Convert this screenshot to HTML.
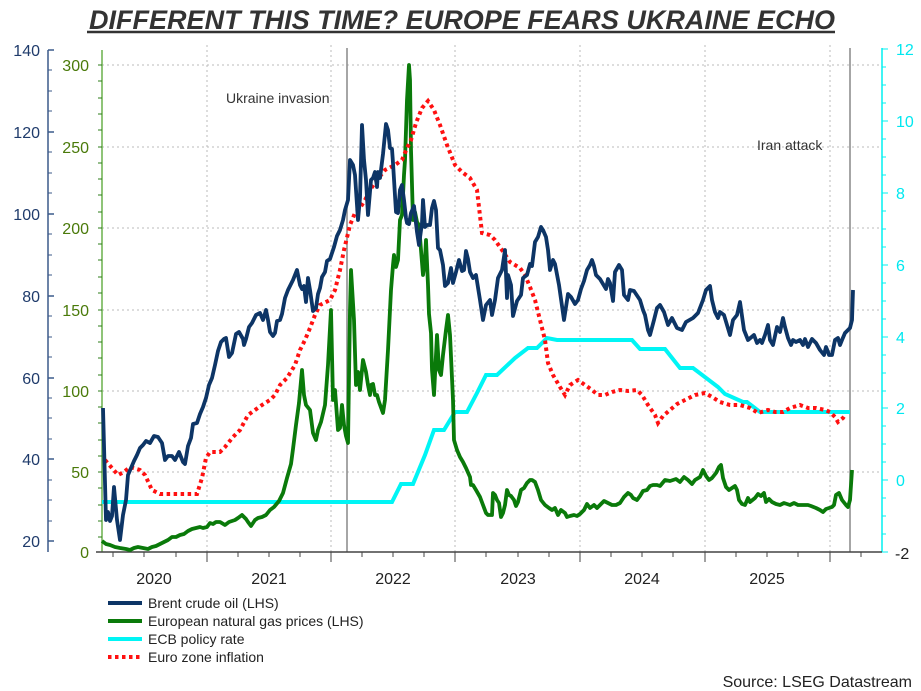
<!DOCTYPE html>
<html><head><meta charset="utf-8"><style>
body{margin:0;background:#fff;}
svg{display:block;font-family:"Liberation Sans",sans-serif;}
</style></head><body>
<svg width="921" height="691" viewBox="0 0 921 691" xmlns="http://www.w3.org/2000/svg">
<rect width="921" height="691" fill="#fff"/>
<text x="89" y="29" font-size="27" font-weight="bold" font-style="italic" fill="#333" textLength="746" lengthAdjust="spacingAndGlyphs">DIFFERENT THIS TIME? EUROPE FEARS UKRAINE ECHO</text>
<line x1="87" y1="32" x2="835" y2="32" stroke="#333" stroke-width="2.5"/>
<g stroke="#bbb" stroke-width="1" stroke-dasharray="2,3">
<line x1="102" y1="65" x2="882" y2="65"/><line x1="102" y1="147" x2="882" y2="147"/><line x1="102" y1="228" x2="882" y2="228"/><line x1="102" y1="310" x2="882" y2="310"/><line x1="102" y1="391" x2="882" y2="391"/><line x1="102" y1="472" x2="882" y2="472"/>
<line x1="207" y1="45" x2="207" y2="552"/><line x1="331" y1="45" x2="331" y2="552"/><line x1="455" y1="45" x2="455" y2="552"/><line x1="580" y1="45" x2="580" y2="552"/><line x1="705" y1="45" x2="705" y2="552"/><line x1="830" y1="45" x2="830" y2="552"/>
</g>
<line x1="347" y1="48" x2="347" y2="552" stroke="#888" stroke-width="1.5"/>
<line x1="850" y1="48" x2="850" y2="552" stroke="#888" stroke-width="1.5"/>
<text x="226" y="103" font-size="14" fill="#333">Ukraine invasion</text>
<text x="757" y="150" font-size="14" fill="#333">Iran attack</text>
<g stroke="#3b5a8a" stroke-width="1.5">
<line x1="48" y1="50" x2="48" y2="552"/>
<line x1="48" y1="50" x2="54" y2="50"/><line x1="48" y1="132" x2="54" y2="132"/><line x1="48" y1="214" x2="54" y2="214"/><line x1="48" y1="296" x2="54" y2="296"/><line x1="48" y1="378" x2="54" y2="378"/><line x1="48" y1="459" x2="54" y2="459"/><line x1="48" y1="541" x2="54" y2="541"/>
</g>
<g stroke="#3b5a8a" stroke-width="1">
<line x1="48" y1="70" x2="52" y2="70"/><line x1="48" y1="91" x2="52" y2="91"/><line x1="48" y1="111" x2="52" y2="111"/><line x1="48" y1="152" x2="52" y2="152"/><line x1="48" y1="173" x2="52" y2="173"/><line x1="48" y1="193" x2="52" y2="193"/><line x1="48" y1="234" x2="52" y2="234"/><line x1="48" y1="255" x2="52" y2="255"/><line x1="48" y1="275" x2="52" y2="275"/><line x1="48" y1="316" x2="52" y2="316"/><line x1="48" y1="337" x2="52" y2="337"/><line x1="48" y1="357" x2="52" y2="357"/><line x1="48" y1="398" x2="52" y2="398"/><line x1="48" y1="418" x2="52" y2="418"/><line x1="48" y1="439" x2="52" y2="439"/><line x1="48" y1="480" x2="52" y2="480"/><line x1="48" y1="500" x2="52" y2="500"/><line x1="48" y1="521" x2="52" y2="521"/>
</g>
<g font-size="16" fill="#1f3b6b" text-anchor="end">
<text x="40" y="56">140</text><text x="40" y="138">120</text><text x="40" y="220">100</text><text x="40" y="302">80</text><text x="40" y="384">60</text><text x="40" y="465">40</text><text x="40" y="547">20</text>
</g>
<g stroke="#6ab04c" stroke-width="1.5"><line x1="102" y1="50" x2="102" y2="552"/></g>
<g stroke="#2e7d1a" stroke-width="1">
<line x1="98" y1="65" x2="102" y2="65"/><line x1="98" y1="81" x2="102" y2="81"/><line x1="98" y1="98" x2="102" y2="98"/><line x1="98" y1="114" x2="102" y2="114"/><line x1="98" y1="130" x2="102" y2="130"/><line x1="98" y1="147" x2="102" y2="147"/><line x1="98" y1="163" x2="102" y2="163"/><line x1="98" y1="179" x2="102" y2="179"/><line x1="98" y1="195" x2="102" y2="195"/><line x1="98" y1="212" x2="102" y2="212"/><line x1="98" y1="228" x2="102" y2="228"/><line x1="98" y1="244" x2="102" y2="244"/><line x1="98" y1="260" x2="102" y2="260"/><line x1="98" y1="277" x2="102" y2="277"/><line x1="98" y1="293" x2="102" y2="293"/><line x1="98" y1="310" x2="102" y2="310"/><line x1="98" y1="326" x2="102" y2="326"/><line x1="98" y1="342" x2="102" y2="342"/><line x1="98" y1="358" x2="102" y2="358"/><line x1="98" y1="375" x2="102" y2="375"/><line x1="98" y1="391" x2="102" y2="391"/><line x1="98" y1="407" x2="102" y2="407"/><line x1="98" y1="423" x2="102" y2="423"/><line x1="98" y1="440" x2="102" y2="440"/><line x1="98" y1="456" x2="102" y2="456"/><line x1="98" y1="472" x2="102" y2="472"/><line x1="98" y1="488" x2="102" y2="488"/><line x1="98" y1="505" x2="102" y2="505"/><line x1="98" y1="521" x2="102" y2="521"/><line x1="98" y1="537" x2="102" y2="537"/>
</g>
<g font-size="16" fill="#4a7a0a" text-anchor="end">
<text x="89" y="71">300</text><text x="89" y="153">250</text><text x="89" y="234">200</text><text x="89" y="316">150</text><text x="89" y="397">100</text><text x="89" y="478">50</text><text x="89" y="558">0</text>
</g>
<g stroke="#00f0f0" stroke-width="1.5"><line x1="882" y1="48" x2="882" y2="552"/></g>
<g stroke="#00f0f0" stroke-width="1">
<line x1="882" y1="49" x2="888" y2="49"/><line x1="882" y1="121" x2="888" y2="121"/><line x1="882" y1="193" x2="888" y2="193"/><line x1="882" y1="265" x2="888" y2="265"/><line x1="882" y1="337" x2="888" y2="337"/><line x1="882" y1="408" x2="888" y2="408"/><line x1="882" y1="480" x2="888" y2="480"/><line x1="882" y1="552" x2="888" y2="552"/>
<line x1="882" y1="67" x2="886" y2="67"/><line x1="882" y1="85" x2="886" y2="85"/><line x1="882" y1="103" x2="886" y2="103"/><line x1="882" y1="139" x2="886" y2="139"/><line x1="882" y1="157" x2="886" y2="157"/><line x1="882" y1="175" x2="886" y2="175"/><line x1="882" y1="211" x2="886" y2="211"/><line x1="882" y1="229" x2="886" y2="229"/><line x1="882" y1="247" x2="886" y2="247"/><line x1="882" y1="283" x2="886" y2="283"/><line x1="882" y1="301" x2="886" y2="301"/><line x1="882" y1="319" x2="886" y2="319"/><line x1="882" y1="355" x2="886" y2="355"/><line x1="882" y1="373" x2="886" y2="373"/><line x1="882" y1="391" x2="886" y2="391"/><line x1="882" y1="426" x2="886" y2="426"/><line x1="882" y1="444" x2="886" y2="444"/><line x1="882" y1="462" x2="886" y2="462"/><line x1="882" y1="498" x2="886" y2="498"/><line x1="882" y1="516" x2="886" y2="516"/><line x1="882" y1="534" x2="886" y2="534"/>
</g>
<g font-size="16" fill="#00e8f0">
<text x="896" y="55">12</text><text x="896" y="127">10</text><text x="896" y="199">8</text><text x="896" y="271">6</text><text x="896" y="343">4</text><text x="896" y="414">2</text><text x="896" y="486">0</text>
</g>
<text x="895" y="559" font-size="16" fill="#222">-2</text>
<line x1="96" y1="552" x2="882" y2="552" stroke="#444" stroke-width="1.5"/>
<g stroke="#444" stroke-width="1">
<line x1="207" y1="552" x2="207" y2="562"/><line x1="331" y1="552" x2="331" y2="562"/><line x1="455" y1="552" x2="455" y2="562"/><line x1="580" y1="552" x2="580" y2="562"/><line x1="705" y1="552" x2="705" y2="562"/><line x1="830" y1="552" x2="830" y2="562"/>
<line x1="113" y1="552" x2="113" y2="557"/><line x1="144" y1="552" x2="144" y2="557"/><line x1="176" y1="552" x2="176" y2="557"/><line x1="238" y1="552" x2="238" y2="557"/><line x1="269" y1="552" x2="269" y2="557"/><line x1="300" y1="552" x2="300" y2="557"/><line x1="362" y1="552" x2="362" y2="557"/><line x1="393" y1="552" x2="393" y2="557"/><line x1="424" y1="552" x2="424" y2="557"/><line x1="486" y1="552" x2="486" y2="557"/><line x1="518" y1="552" x2="518" y2="557"/><line x1="549" y1="552" x2="549" y2="557"/><line x1="611" y1="552" x2="611" y2="557"/><line x1="642" y1="552" x2="642" y2="557"/><line x1="673" y1="552" x2="673" y2="557"/><line x1="736" y1="552" x2="736" y2="557"/><line x1="767" y1="552" x2="767" y2="557"/><line x1="798" y1="552" x2="798" y2="557"/><line x1="861" y1="552" x2="861" y2="557"/>
</g>
<g font-size="16" fill="#222" text-anchor="middle">
<text x="154" y="584">2020</text><text x="269" y="584">2021</text><text x="393" y="584">2022</text><text x="518" y="584">2023</text><text x="642" y="584">2024</text><text x="767" y="584">2025</text>
</g>
<polyline fill="none" stroke="#00f5f5" stroke-width="4" points="102,502 392,502 401,484 413,484 425,455 434,430 444,430 455,412 467,412 477,393 486,375 497,375 515,358 528,348 537,348 547,338 557,340 632,340 640,349 665,349 680,368 693,368 718,387 725,394 743,402 747,402 760,412 850,412"/>
<polyline fill="none" stroke="#0a7a0a" stroke-width="3.8" stroke-linejoin="round" points="102,541 106,544 110,545 115,547 120,548 126,549 130,550 134,548 138,547 143,548 148,549 152,547 156,546 160,544 164,542 168,540 172,537 176,537 180,535 184,534 188,531 192,529 196,528 200,527 203,528 207,527 210,523 213,524 216,522 220,522 225,525 229,522 232,521 235,520 238,518 242,515 246,519 248,522 251,526 255,520 258,518 262,517 266,515 270,510 274,507 279,501 283,493 287,478 291,464 293,449 296,425 299,403 302,370 304,395 306,405 310,410 313,433 316,440 318,430 321,422 325,405 328,365 331,310 333,400 335,390 338,430 340,428 342,405 344,425 346,436 348,443 350,310 351,270 354,320 356,385 358,372 360,390 363,360 366,372 368,385 370,395 371,385 373,384 375,395 377,395 379,402 383,413 385,400 388,350 391,290 393,265 394,255 396,267 398,260 400,220 402,215 404,175 405,160 407,100 409,65 410,80 411,150 413,220 415,212 417,222 419,225 421,250 423,275 425,260 426,240 428,285 429,314 431,333 432,370 434,395 435,375 437,335 439,370 441,375 443,355 446,330 448,315 450,335 453,400 454,440 457,450 460,457 463,462 466,468 470,477 471,485 473,485 476,490 480,497 483,505 486,513 488,515 492,515 493,493 495,495 497,500 499,503 501,517 503,513 505,505 507,490 509,495 511,496 514,500 516,506 518,502 521,490 524,488 527,483 530,480 532,480 535,482 538,490 541,500 545,505 549,508 552,510 555,508 558,515 561,510 565,513 567,517 570,516 574,515 577,516 580,514 584,510 587,504 590,508 594,505 597,508 600,505 604,501 608,503 612,505 616,505 620,503 624,497 628,493 631,495 633,498 637,500 640,496 643,491 647,490 650,486 653,485 657,485 660,486 665,480 670,481 676,479 680,482 684,477 688,480 692,484 695,480 700,477 703,470 706,476 709,480 712,478 716,473 719,467 721,465 723,478 726,487 729,490 732,488 735,486 737,490 739,500 742,504 745,505 748,498 750,502 755,498 758,494 761,496 764,493 766,502 769,499 772,502 776,504 780,505 784,503 790,505 794,503 798,505 802,505 808,505 811,506 816,508 820,510 823,512 826,509 832,507 834,505 836,495 839,493 842,500 846,505 848,507 850,500 852,470"/>
<polyline fill="none" stroke="#ff1010" stroke-width="4" stroke-dasharray="3.5,3.5" points="105,460 112,468 118,475 124,472 130,467 140,470 145,475 152,490 160,494 170,494 180,494 197,494 202,478 206,458 210,452 220,452 225,447 233,437 240,430 248,415 255,410 262,405 270,400 275,395 280,385 287,378 295,365 300,350 305,340 310,328 315,315 320,305 330,300 335,290 340,270 344,250 350,225 355,213 360,208 365,200 370,190 377,180 385,170 395,165 402,160 407,148 411,140 416,123 422,108 428,101 434,110 440,125 447,145 455,165 462,172 470,178 477,190 482,233 490,235 495,240 502,250 510,262 520,268 525,275 530,287 535,300 540,320 545,340 548,363 553,375 560,387 565,395 570,385 578,380 585,385 592,390 598,395 605,395 612,392 620,390 628,391 637,390 642,395 648,405 655,415 658,423 663,416 670,410 677,404 685,400 695,395 705,393 712,397 720,402 730,405 740,405 750,408 758,413 768,410 775,412 783,412 790,408 800,405 808,408 816,408 825,410 830,412 835,417 838,422 843,418 845,415"/>
<polyline fill="none" stroke="#0d3566" stroke-width="3.8" stroke-linejoin="round" points="103,408 106,520 108,512 110,521 112,516 114,487 117,520 120,540 123,515 126,500 128,475 131,468 134,461 137,455 140,448 143,445 146,441 150,443 154,436 158,437 162,443 165,460 168,456 172,456 175,460 179,452 183,462 185,464 188,446 191,438 193,424 197,423 200,414 203,407 206,398 209,385 212,378 215,365 218,351 221,342 224,339 226,338 229,357 232,353 236,334 239,332 243,339 244,345 246,339 249,327 252,323 256,315 260,313 263,320 266,310 268,320 270,332 273,336 275,333 277,321 280,320 282,314 285,298 288,290 290,286 293,280 297,270 300,285 302,289 304,286 306,302 308,278 310,290 313,311 316,308 318,294 320,288 322,277 325,272 327,261 330,259 334,247 337,236 340,230 343,220 345,210 348,200 350,160 353,165 355,175 358,220 360,198 362,125 364,160 366,180 368,215 371,180 373,178 375,172 377,187 378,172 380,178 383,154 386,124 388,130 390,148 392,149 393,163 396,212 398,213 400,190 402,185 404,200 406,218 407,223 409,224 411,213 414,206 417,232 419,245 422,223 423,200 425,227 427,225 430,225 432,208 434,201 436,210 438,248 440,250 443,265 445,286 448,283 451,268 453,283 456,272 459,260 462,271 464,270 466,251 468,259 470,272 473,278 476,275 480,300 483,320 486,305 490,300 492,315 495,300 498,278 502,270 505,250 507,298 508,275 511,285 513,316 517,301 521,295 523,278 527,275 530,264 532,266 535,242 538,237 541,227 543,230 546,237 548,250 550,270 553,260 555,264 559,285 564,320 568,294 571,297 575,304 578,300 581,289 584,281 587,270 590,265 592,260 594,266 596,275 600,279 603,284 606,289 608,279 610,283 613,301 615,272 619,265 622,270 624,295 628,300 630,290 634,291 640,300 643,310 645,315 648,330 650,335 654,320 657,308 660,305 664,312 668,325 672,318 677,328 682,330 686,322 693,318 698,313 703,300 706,290 710,286 712,300 715,312 718,318 720,312 724,315 727,325 730,335 733,320 737,315 740,302 744,330 748,340 754,335 757,343 760,340 762,343 765,335 768,325 770,340 773,345 777,327 780,332 783,318 785,327 788,338 791,345 793,340 796,342 800,340 803,345 805,339 808,347 812,339 816,343 820,350 824,355 826,347 828,352 829,355 832,355 835,340 838,338 840,345 842,340 845,333 848,330 850,328 852,320 853,290"/>
<line x1="108" y1="603" x2="142" y2="603" stroke="#0d3566" stroke-width="4"/>
<line x1="108" y1="621" x2="142" y2="621" stroke="#0a7a0a" stroke-width="4"/>
<line x1="108" y1="639" x2="142" y2="639" stroke="#00f5f5" stroke-width="4"/>
<line x1="108" y1="657" x2="142" y2="657" stroke="#ff1010" stroke-width="4" stroke-dasharray="3.5,3.5"/>
<g font-size="14" fill="#222">
<text x="148" y="608">Brent crude oil (LHS)</text>
<text x="148" y="626">European natural gas prices (LHS)</text>
<text x="148" y="644">ECB policy rate</text>
<text x="148" y="662">Euro zone inflation</text>
</g>
<text x="912" y="687" font-size="16" fill="#222" text-anchor="end">Source: LSEG Datastream</text>
</svg>
</body></html>
